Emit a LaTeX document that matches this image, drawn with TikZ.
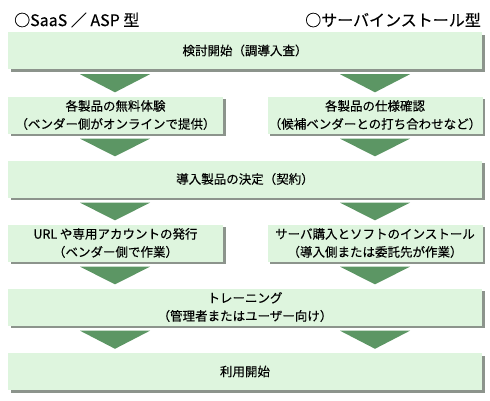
\documentclass[tikz,border=0pt]{standalone}
\usepackage{fontspec}
\setmainfont{Noto Sans CJK JP}[FakeBold=0.25]
\usetikzlibrary{shadows,calc}
\definecolor{boxgreen}{RGB}{222,245,222}
\definecolor{arrowgreen}{RGB}{92,150,100}
\definecolor{shadowgray}{RGB}{140,148,140}
\tikzset{
  stepbox/.style={fill=boxgreen, minimum height=37pt, inner sep=0pt, align=center,
    font=\fontsize{12.5}{18}\selectfont,
    drop shadow={shadow xshift=2.5pt, shadow yshift=-2.5pt, fill=shadowgray, opacity=1}},
  widebox/.style={stepbox, minimum width=474pt},
  halfbox/.style={stepbox, minimum width=215pt},
  title/.style={font=\fontsize{16}{18}\selectfont, inner sep=0pt},
  tri/.style={fill=arrowgreen}
}
\begin{document}
\begin{tikzpicture}[x=1pt, y=-1pt]
          \useasboundingbox (0, 0) rectangle (490, 400);
          \coordinate (colL) at (115, 0);
          \coordinate (colR) at (375, 0);
          \node[title, anchor=west] (saas) at (14, 20) {○SaaS ／ ASP 型};
          \node[title, anchor=east] (server) at (481, 20) {○サーバインストール型};
          \node[widebox] (start) at (245, 50.5) {検討開始（調導入査）};
          \node[halfbox] (trialL) at (115.5, 115) {各製品の無料体験\\（ベンダー側がオンラインで提供）};
          \node[halfbox] (specR) at (375, 115) {各製品の仕様確認\\（候補ベンダーとの打ち合わせなど）};
          \node[widebox] (decide) at (245, 179) {導入製品の決定（契約）};
          \node[halfbox] (issueL) at (115.5, 243) {URL や専用アカウントの発行\\（ベンダー側で作業）};
          \node[halfbox] (installR) at (375, 243) {サーバ購入とソフトのインストール\\（導入側または委託先が作業）};
          \node[widebox] (train) at (245, 307) {トレーニング\\（管理者またはユーザー向け）};
          \node[widebox] (usage) at (245, 371.5) {利用開始};
          \foreach \a/\b/\c in {start/trialL/colL, start/specR/colR, trialL/decide/colL, specR/decide/colR,
              decide/issueL/colL, decide/installR/colR, issueL/train/colL, installR/train/colR,
              train/usage/colL, train/usage/colR}
            \fill[tri] ($(\c |- \a.south)+(-35, 5)$) -- ++(70, 0) -- ($(\c |- \b.north)+(0, -4)$) -- cycle;
    \end{tikzpicture}
\end{document}
